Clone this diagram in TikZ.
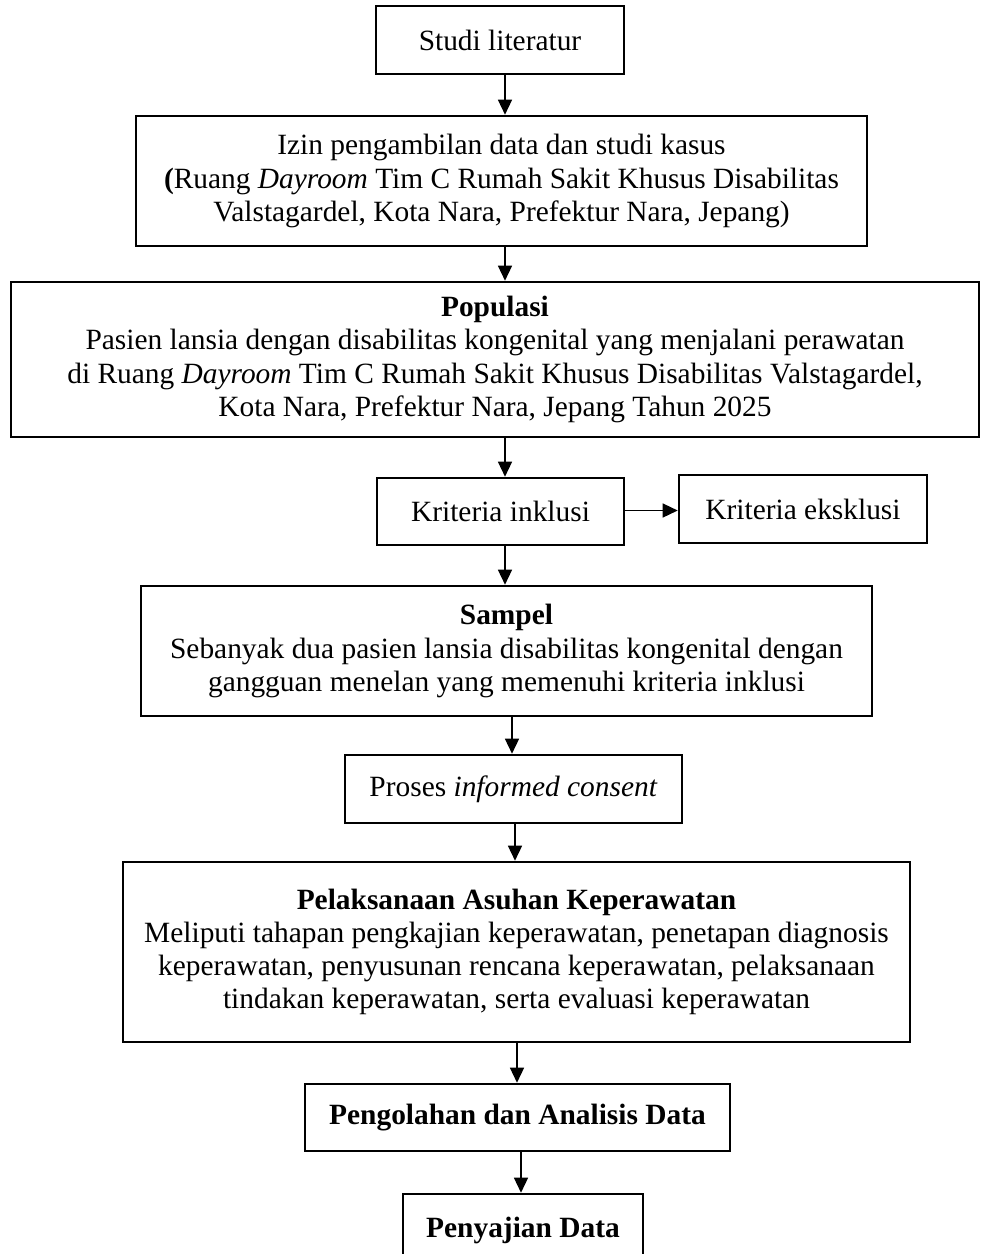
\documentclass[tikz,border=0pt]{standalone}
\usepackage{fontspec}
\setmainfont{Liberation Serif}
\usetikzlibrary{arrows.meta,calc}
\newcommand\myfs{\fontsize{14.7pt}{16.6pt}\selectfont}
\begin{document}
\begin{tikzpicture}[x=0.5pt,y=-0.5pt,
  box/.style={draw, line width=1.3pt, inner sep=0pt, align=center, font=\myfs},
  arr/.style={-{Triangle[width=7pt,length=7.5pt]}, line width=0.7pt}]
\useasboundingbox (0,0) rectangle (981,1254);
\node[box, minimum width=124pt, minimum height=34pt] (studi) at (500,40) {Studi literatur};
\node[box, minimum width=365.5pt, minimum height=65pt] (izin) at (501.5,181)
  {Izin pengambilan data dan studi kasus\\
   \textbf{(}Ruang \textit{Dayroom} Tim C Rumah Sakit Khusus Disabilitas\\
   Valstagardel, Kota Nara, Prefektur Nara, Jepang)};
\node[box, minimum width=484pt, minimum height=77.5pt] (pop) at (495,359.5)
  {\textbf{Populasi}\\
   Pasien lansia dengan disabilitas kongenital yang menjalani perawatan\\
   di Ruang \textit{Dayroom} Tim C Rumah Sakit Khusus Disabilitas Valstagardel,\\
   Kota Nara, Prefektur Nara, Jepang Tahun 2025};
\node[box, minimum width=123.5pt, minimum height=33.5pt] (inkl) at (500.5,511.5) {Kriteria inklusi};
\node[box, minimum width=124pt, minimum height=34pt] (eks) at (803,509) {Kriteria eksklusi};
\node[box, minimum width=365.5pt, minimum height=65pt] (sampel) at (506.5,651)
  {\textbf{Sampel}\\
   Sebanyak dua pasien lansia disabilitas kongenital dengan\\
   gangguan menelan yang memenuhi kriteria inklusi};
\node[box, minimum width=168.5pt, minimum height=34pt] (consent) at (513.5,789)
  {Proses \textit{informed consent}};
\node[box, minimum width=393.5pt, minimum height=90pt] (pelak) at (516.5,952)
  {\textbf{Pelaksanaan Asuhan Keperawatan}\\
   Meliputi tahapan pengkajian keperawatan, penetapan diagnosis\\
   keperawatan, penyusunan rencana keperawatan, pelaksanaan\\
   tindakan keperawatan, serta evaluasi keperawatan};
\node[box, minimum width=212.5pt, minimum height=33.5pt] (peng) at (517.5,1117.5)
  {\textbf{Pengolahan dan Analisis Data}};
\node[box, minimum width=120pt, minimum height=36pt] (saji) at (523,1230)
  {\textbf{Penyajian Data}};
\draw[arr] ([xshift=2.5pt]studi.south) -- ([xshift=2.5pt]studi.south |- izin.north);
\draw[arr] ([xshift=1.75pt]izin.south) -- ([xshift=1.75pt]izin.south |- pop.north);
\draw[arr] ([xshift=5pt]pop.south) -- ([xshift=5pt]pop.south |- inkl.north);
\draw[arr] ([xshift=2.25pt]inkl.south) -- ([xshift=2.25pt]inkl.south |- sampel.north);
\draw[arr] ([yshift=0.5pt]inkl.east) -- ([yshift=0.5pt]inkl.east -| eks.west);
\draw[arr] ([xshift=2.75pt]sampel.south) -- ([xshift=2.75pt]sampel.south |- consent.north);
\draw[arr] ([xshift=0.75pt]consent.south) -- ([xshift=0.75pt]consent.south |- pelak.north);
\draw[arr] ([xshift=0.25pt]pelak.south) -- ([xshift=0.25pt]pelak.south |- peng.north);
\draw[arr] ([xshift=1.75pt]peng.south) -- ([xshift=1.75pt]peng.south |- saji.north);
\end{tikzpicture}
\end{document}
